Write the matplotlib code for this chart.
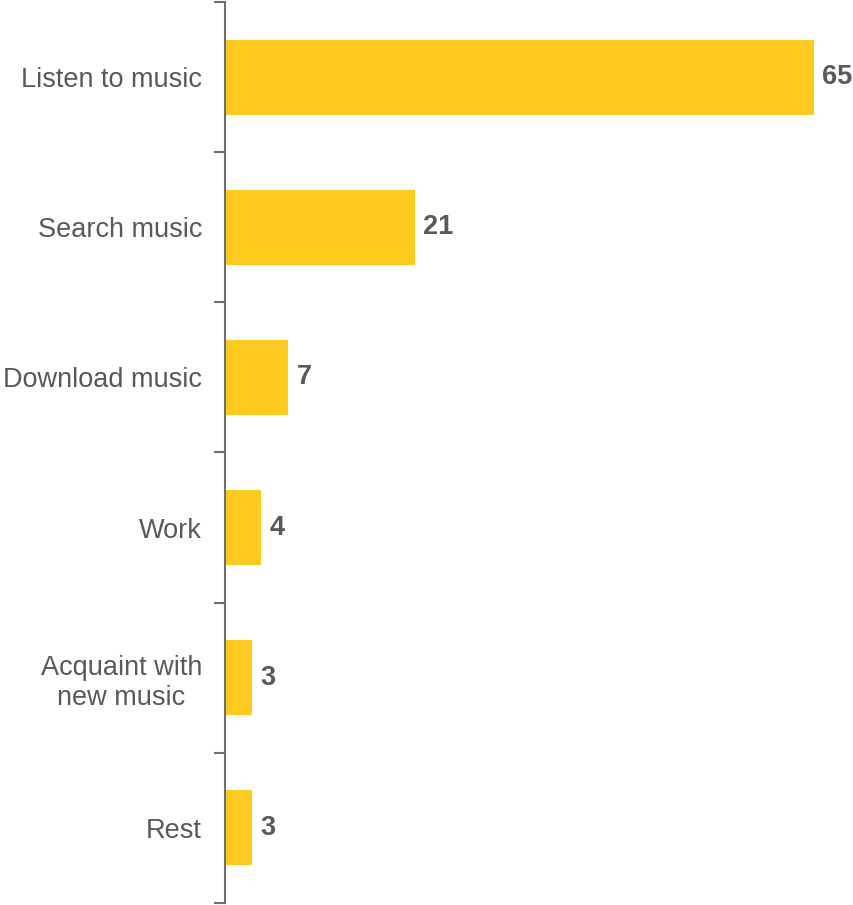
import numpy as np
import matplotlib.pyplot as plt

plt.rcParams['font.family'] = ['Liberation Sans', 'DejaVu Sans']

categories = ['Listen to music', 'Search music', 'Download music', 'Work',
              'Acquaint with\nnew music', 'Rest']
values = [65, 21, 7, 4, 3, 3]

bar_color = '#FDCA20'
text_color = '#595959'
axis_color = '#6f6f6f'

fig = plt.figure(figsize=(8.54, 9.05), dpi=100)
ax = fig.add_axes([225 / 854, 2 / 905, 1 - 225 / 854, 901 / 905])

y = np.arange(len(categories))
ax.barh(y, values, height=0.5, color=bar_color)
for yi, v in zip(y, values):
    ax.text(v + 0.9, yi, str(v), va='center', ha='left', fontsize=19.5,
            fontweight='bold', color=text_color)

ax.set_xlim(0, 69.4)
ax.set_ylim(len(categories) - 0.5, -0.5)

# category names at bar centres, tick marks on the slot boundaries
ax.set_yticks(y)
ax.set_yticklabels(categories, fontsize=19.5, color=text_color,
                   multialignment='center', linespacing=1.2)
ax.tick_params(axis='y', which='major', length=0, pad=16.5)
ax.set_yticks(np.arange(-0.5, len(categories)), minor=True)
ax.tick_params(axis='y', which='minor', length=8, width=1.5, color=axis_color)

ax.set_xticks([])
for side in ['top', 'right', 'bottom']:
    ax.spines[side].set_visible(False)
ax.spines['left'].set_color(axis_color)
ax.spines['left'].set_linewidth(1.5)

fig.savefig('out.png', dpi=100)
